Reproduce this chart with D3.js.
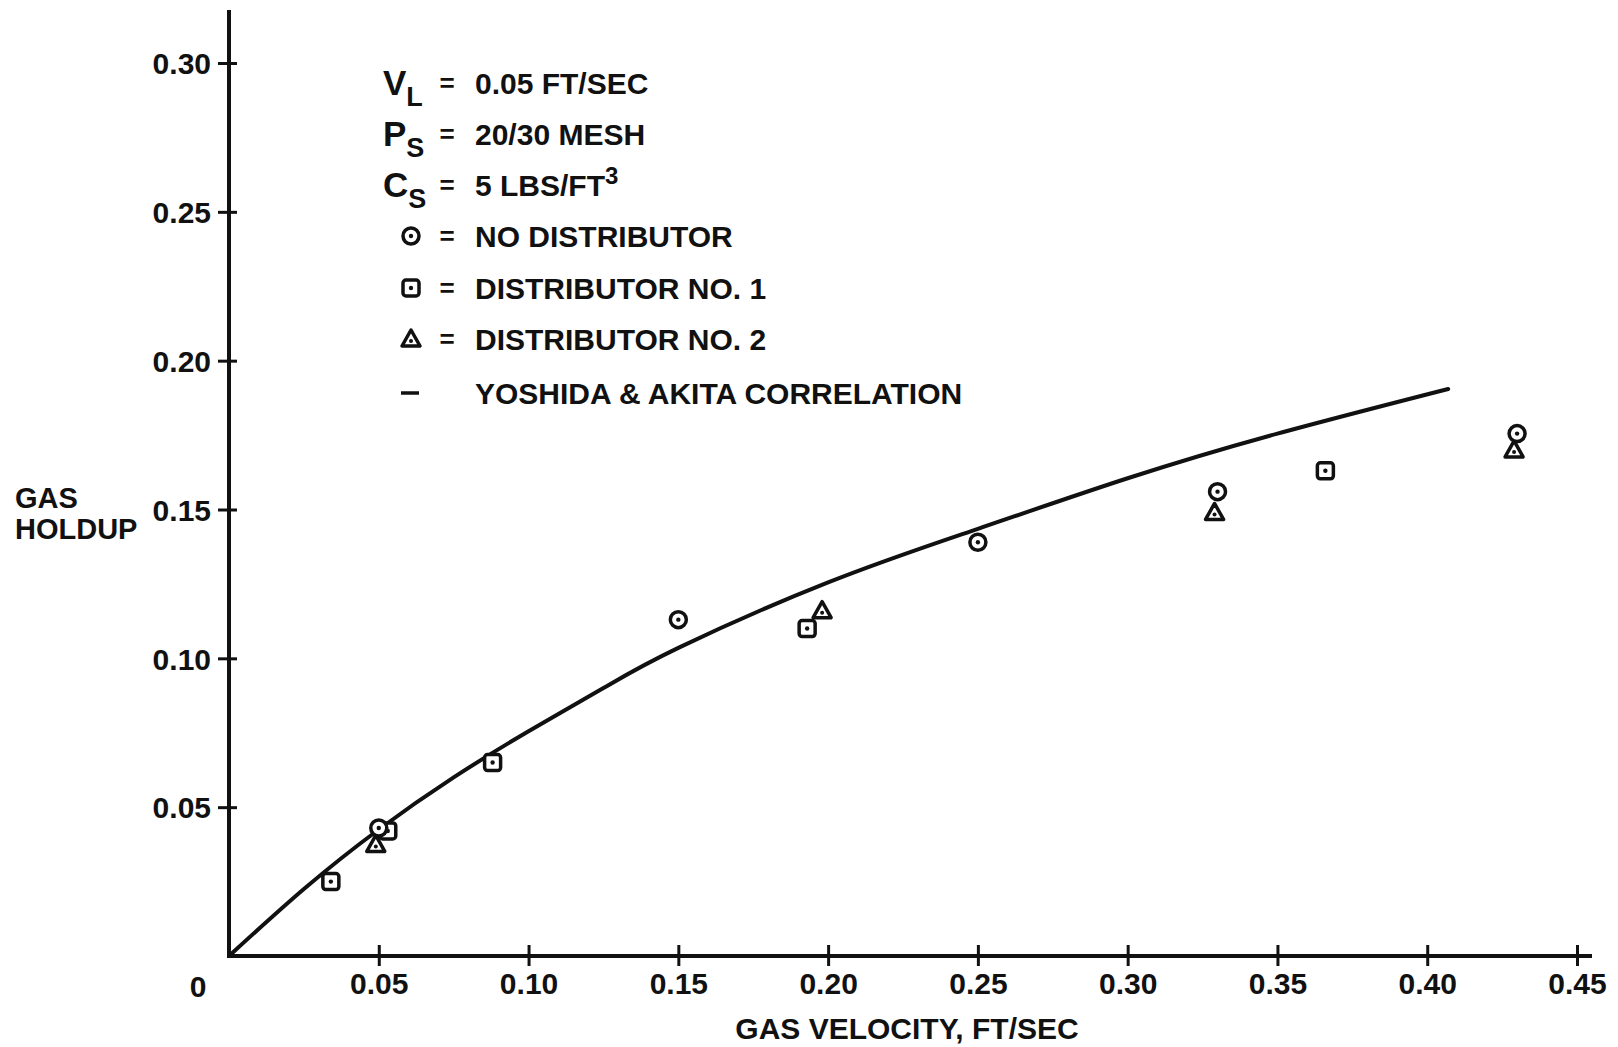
<!DOCTYPE html>
<html>
<head>
<meta charset="utf-8">
<script src="https://cdn.jsdelivr.net/npm/d3@7"></script>
<style>
  body { margin: 0; background: #fff; }
  text { font-family: "Liberation Sans", Arial, sans-serif; font-weight: bold; fill: #111; }
</style>
</head>
<body>
<svg width="1618" height="1047"></svg>
<script>
// values
var xTicks = [0.05, 0.10, 0.15, 0.20, 0.25, 0.30, 0.35, 0.40, 0.45];
var yTicks = [0.05, 0.10, 0.15, 0.20, 0.25, 0.30];

var noDistX = [0.050, 0.150, 0.250, 0.330, 0.430];
var noDistY = [0.043, 0.113, 0.139, 0.156, 0.1755];

var dist1X = [0.034, 0.053, 0.088, 0.193, 0.366];
var dist1Y = [0.025, 0.042, 0.065, 0.110, 0.163];

var dist2X = [0.049, 0.198, 0.329, 0.429];
var dist2Y = [0.0375, 0.116, 0.149, 0.170];

// Yoshida & Akita correlation, traced
var corrX = [0, 0.025, 0.050, 0.075, 0.100, 0.125, 0.150, 0.200, 0.250, 0.300, 0.350, 0.407];
var corrY = [0, 0.0225, 0.0425, 0.0600, 0.0755, 0.0900, 0.1035, 0.1255, 0.1435, 0.1605, 0.1755, 0.1905];

var legendRows = ["NO DISTRIBUTOR", "DISTRIBUTOR NO. 1", "DISTRIBUTOR NO. 2"];

var svg = d3.select("svg");

var x = d3.scaleLinear().domain([0, 0.45]).range([229, 1577]);
var y = d3.scaleLinear().domain([0, 0.30]).range([956, 63]);

// axis lines
svg.append("line").attr("x1", x(0)).attr("x2", 1592).attr("y1", y(0)).attr("y2", y(0))
  .attr("stroke", "#111").attr("stroke-width", 4);
svg.append("line").attr("x1", x(0)).attr("x2", x(0)).attr("y1", y(0) + 2).attr("y2", 10)
  .attr("stroke", "#111").attr("stroke-width", 4);

// x axis ticks
var xAxis = d3.axisBottom(x).tickValues(xTicks).tickFormat(d3.format(".2f")).tickSize(10);
var gx = svg.append("g").attr("transform", "translate(0," + y(0) + ")").call(xAxis);
gx.select(".domain").remove();
gx.selectAll(".tick line").attr("y1", -11).attr("y2", 10).attr("stroke", "#111").attr("stroke-width", 3);
gx.selectAll(".tick text").attr("y", 38).attr("dy", 0).style("font-size", "30px")
  .attr("font-family", null);

// y axis ticks
var yAxis = d3.axisLeft(y).tickValues(yTicks).tickFormat(d3.format(".2f")).tickSize(12);
var gy = svg.append("g").attr("transform", "translate(" + x(0) + ",0)").call(yAxis);
gy.select(".domain").remove();
gy.selectAll(".tick line").attr("x1", -11).attr("x2", 8).attr("stroke", "#111").attr("stroke-width", 3);
gy.selectAll(".tick text").attr("x", -18).attr("dy", "0.36em").style("font-size", "30px")
  .attr("font-family", null);
svg.selectAll("g text").attr("fill", "#111");

svg.append("text").attr("x", 198).attr("y", 997).attr("text-anchor", "middle")
  .style("font-size", "30px").text("0");

// axis titles
svg.append("text").attr("x", 907).attr("y", 1039).attr("text-anchor", "middle")
  .style("font-size", "30px").text("GAS VELOCITY, FT/SEC");
svg.append("text").attr("x", 15).attr("y", 508).style("font-size", "29px").text("GAS");
svg.append("text").attr("x", 15).attr("y", 539).style("font-size", "29px").text("HOLDUP");

// correlation curve
var line = d3.line().x(function(d){ return x(d[0]); }).y(function(d){ return y(d[1]); })
  .curve(d3.curveNatural);
svg.append("path").datum(d3.zip(corrX, corrY)).attr("d", line)
  .attr("fill", "none").attr("stroke", "#111").attr("stroke-width", 4).attr("stroke-linecap", "round");

// marker drawers
function drawCircle(g, cx, cy) {
  g.append("circle").attr("cx", cx).attr("cy", cy).attr("r", 8)
    .attr("fill", "#fff").attr("stroke", "#111").attr("stroke-width", 3.5);
  g.append("circle").attr("cx", cx).attr("cy", cy).attr("r", 2.2).attr("fill", "#111");
}
function drawSquare(g, cx, cy) {
  g.append("rect").attr("x", cx - 8).attr("y", cy - 8).attr("width", 16).attr("height", 16).attr("rx", 3)
    .attr("fill", "#fff").attr("stroke", "#111").attr("stroke-width", 3.5);
  g.append("circle").attr("cx", cx).attr("cy", cy).attr("r", 2.2).attr("fill", "#111");
}
function drawTriangle(g, cx, cy) {
  g.append("path").attr("d", "M" + cx + "," + (cy - 9) + "L" + (cx + 9) + "," + (cy + 7) + "L" + (cx - 9) + "," + (cy + 7) + "Z")
    .attr("fill", "#fff").attr("stroke", "#111").attr("stroke-width", 3.5).attr("stroke-linejoin", "round");
  g.append("circle").attr("cx", cx).attr("cy", cy + 2).attr("r", 2).attr("fill", "#111");
}

var marks = svg.append("g");
d3.zip(dist2X, dist2Y).forEach(function(d){ drawTriangle(marks, x(d[0]), y(d[1])); });
d3.zip(dist1X, dist1Y).forEach(function(d){ drawSquare(marks, x(d[0]), y(d[1])); });
d3.zip(noDistX, noDistY).forEach(function(d){ drawCircle(marks, x(d[0]), y(d[1])); });

// legend
var lg = svg.append("g");
var textX = 475, eqX = 447, symX = 411, varX = 383;
var rowY = [83, 134, 185, 236, 288, 339, 393];

function varLabel(main, sub, ry) {
  var t = lg.append("text").attr("x", varX).attr("y", ry + 12).style("font-size", "35px");
  t.append("tspan").text(main);
  t.append("tspan").attr("dy", 11).style("font-size", "27px").text(sub);
}
function eq(ry) {
  lg.append("text").attr("x", eqX).attr("y", ry + 9).attr("text-anchor", "middle")
    .style("font-size", "26px").text("=");
}

varLabel("V", "L", rowY[0]); eq(rowY[0]);
lg.append("text").attr("x", textX).attr("y", rowY[0] + 11).style("font-size", "30px").text("0.05 FT/SEC");
varLabel("P", "S", rowY[1]); eq(rowY[1]);
lg.append("text").attr("x", textX).attr("y", rowY[1] + 11).style("font-size", "30px").text("20/30 MESH");
varLabel("C", "S", rowY[2]); eq(rowY[2]);
var ct = lg.append("text").attr("x", textX).attr("y", rowY[2] + 11).style("font-size", "30px");
ct.append("tspan").text("5 LBS/FT");
ct.append("tspan").attr("dy", -12).style("font-size", "24px").text("3");

var drawers = [drawCircle, drawSquare, drawTriangle];
legendRows.forEach(function(name, i){
  var ry = rowY[3 + i];
  drawers[i](lg, symX, ry);
  eq(ry);
  lg.append("text").attr("x", textX).attr("y", ry + 11).style("font-size", "30px").text(name);
});
lg.append("line").attr("x1", symX - 10).attr("x2", symX + 8).attr("y1", rowY[6]).attr("y2", rowY[6])
  .attr("stroke", "#111").attr("stroke-width", 3.5);
lg.append("text").attr("x", textX).attr("y", rowY[6] + 11).style("font-size", "30px").text("YOSHIDA & AKITA CORRELATION");
</script>
</body>
</html>
